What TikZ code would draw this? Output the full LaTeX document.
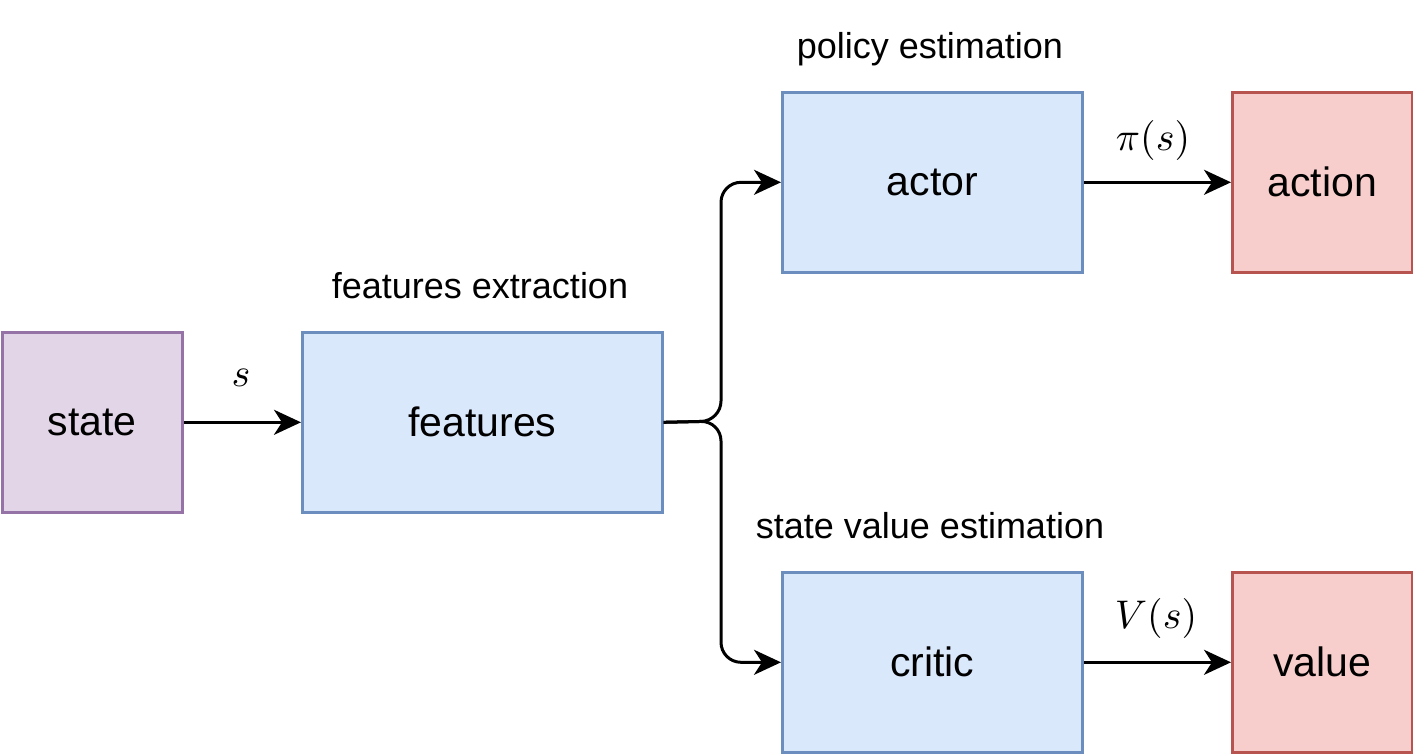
\documentclass[tikz,border=0pt]{standalone}
\usepackage{graphicx}
\usepackage{fontspec}
\setmainfont{Liberation Sans}
\usetikzlibrary{arrows.meta}
\definecolor{bluefill}{HTML}{DAE8FC}
\definecolor{bluedraw}{HTML}{6C8EBF}
\definecolor{redfill}{HTML}{F8CECC}
\definecolor{reddraw}{HTML}{B85450}
\definecolor{purplefill}{HTML}{E1D5E7}
\definecolor{purpledraw}{HTML}{9673A6}
\newcommand{\bigmath}[1]{\scalebox{4}{$#1$}}
\tikzset{
  box/.style={draw, line width=2.6pt, inner sep=0pt, anchor=north west,
    font=\fontsize{41}{49}\selectfont},
  bluebox/.style={box, fill=bluefill, draw=bluedraw},
  redbox/.style={box, fill=redfill, draw=reddraw},
  purplebox/.style={box, fill=purplefill, draw=purpledraw},
  lbl/.style={font=\fontsize{36}{43}\selectfont, anchor=base, inner sep=0pt},
  mlbl/.style={inner sep=0pt},
  conn/.style={line width=3pt, -{Stealth[length=27pt,width=25pt,inset=8pt]}, rounded corners=20pt},
}
\begin{document}
\begin{tikzpicture}[x=1pt,y=-1pt]
\useasboundingbox (0,0) rectangle (1413,753);
\node[purplebox, minimum width=180pt, minimum height=180pt] (state) at (1,331) {state};
\node[bluebox, minimum width=360pt, minimum height=180pt] (features) at (301,331) {features};
\node[bluebox, minimum width=300pt, minimum height=180pt] (actor) at (781,91) {actor};
\node[bluebox, minimum width=300pt, minimum height=180pt] (critic) at (781,571) {critic};
\node[redbox, minimum width=180pt, minimum height=180pt] (action) at (1231,91) {action};
\node[redbox, minimum width=180pt, minimum height=180pt] (value) at (1231,571) {value};

\node[lbl] (lfe) at (480,298) {features extraction};
\node[lbl] (lpe) at (930,58) {policy estimation};
\node[lbl] (lsv) at (930,538) {state value estimation};

\node[mlbl] (ls) at (241,378) {\bigmath{s}};
\node[mlbl] (lpi) at (1153,140) {\bigmath{\pi(s)}};
\node[mlbl] (lv) at (1156,618) {\bigmath{V(s)}};

\coordinate (fork) at (721,421);
\draw[conn] (state.east) -- (features.west);
\draw[conn] (features.east) -- (fork) |- (actor.west);
\draw[conn] (features.east) -- (fork) |- (critic.west);
\draw[conn] (actor.east) -- (action.west);
\draw[conn] (critic.east) -- (value.west);
\end{tikzpicture}
\end{document}
